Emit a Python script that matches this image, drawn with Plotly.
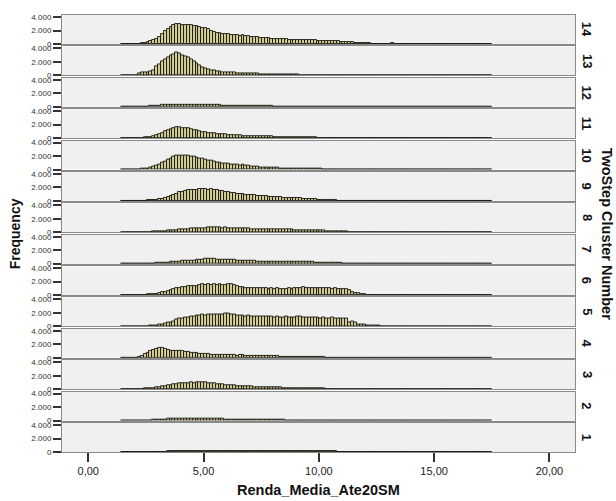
import numpy as np
import plotly.graph_objects as go
from plotly.subplots import make_subplots

# ---------------- data ----------------
BIN_START = 1.4
BIN_WIDTH = 0.125

clusters = [14, 13, 12, 11, 10, 9, 8, 7, 6, 5, 4, 3, 2, 1]

C14 = [10,10,10,15,20,30,60,120,
       200,300,420,600,800,1050,1450,2000,
       2250,2500,2750,2950,2900,2850,2800,2850,
       2750,2700,2600,2550,2400,2300,2150,2000,
       1850,1700,1650,1550,1500,1450,1400,1350,
       1300,1250,1350,1200,1150,1100,1050,1000,
       950,900,880,850,800,780,750,720,
       700,680,650,620,650,600,580,600,
       560,550,520,540,500,480,500,460,
       450,420,400,380,350,330,300,280,
       250,220,180,150,120,100,80,60,
       50,40,35,30,25,20,150,25,
       20,15,15,12,10,10,10,10,
       10,10,10,10,10,10,10,10,
       10,10,10,10,10,10,10,10,
       10,10,10,10,10,10,10,10,
       10]
C13 = [10,10,10,10,15,40,300,400,
       450,500,550,800,1300,1700,2100,2400,
       2700,2900,3100,3370,3200,2900,2850,2600,
       2400,2100,1800,1500,1250,1050,900,780,
       700,600,550,500,450,420,400,380,
       350,320,300,280,260,250,240,230,
       220,200,190,180,170,160,150,140,
       130,120,110,100,90,80,70,60,
       55,50,45,40,35,30,28,25,
       22,20,20,18,18,16,16,15,
       15,14,14,13,13,12,12,12,
       12,11,11,11,10,10,10,10,
       10,10,10,10,10,10,10,10,
       10,10,10,10,10,10,10,10,
       10,10,10,10,10,10,10,10,
       10,10,10,10,10,10,10,10,
       10]
C12 = [10,10,10,10,15,20,25,35,
       50,70,90,120,160,200,240,280,
       310,330,350,360,340,330,320,330,
       310,300,290,300,280,270,290,260,
       250,240,230,220,210,200,190,180,
       170,160,150,140,130,120,110,100,
       95,90,85,80,75,70,65,60,
       55,50,45,40,38,35,32,30,
       28,26,25,24,22,20,20,18,
       18,16,16,15,15,14,14,13,
       13,12,12,12,11,11,11,10,
       10,10,10,10,10,10,10,10,
       10,10,10,10,10,10,10,10,
       10,10,10,10,10,10,10,10,
       10,10,10,10,10,10,10,10,
       10,10,10,10,10,10,10,10,
       10]
C11 = [10,10,10,10,15,20,30,50,
       80,120,180,260,380,550,750,1000,
       1200,1400,1550,1650,1600,1550,1500,1450,
       1350,1250,1150,1050,950,850,800,750,
       700,650,600,560,520,480,450,420,
       400,380,360,340,320,300,290,280,
       270,260,250,240,230,220,210,200,
       190,180,170,160,150,140,130,120,
       110,100,90,80,70,60,50,40,
       35,30,28,25,22,20,18,16,
       15,14,13,12,12,11,11,10,
       10,10,10,10,10,10,10,10,
       10,10,10,10,10,10,10,10,
       10,10,10,10,10,10,10,10,
       10,10,10,10,10,10,10,10,
       10,10,10,10,10,10,10,10,
       10]
C10 = [10,10,10,15,20,30,60,100,
       150,220,320,450,600,800,1000,1250,
       1500,1700,1900,2050,2100,2100,2050,2050,
       2000,1900,1800,1700,1600,1500,1400,1300,
       1200,1100,1000,950,900,850,800,750,
       700,650,750,600,550,500,450,400,
       350,320,300,280,260,240,230,220,
       210,200,190,180,170,160,150,140,
       130,120,110,100,90,80,70,60,
       50,45,40,35,30,28,25,22,
       20,18,16,15,14,13,12,11,
       10,10,10,10,10,10,10,10,
       10,10,10,10,10,10,10,10,
       10,10,10,10,10,10,10,10,
       10,10,10,10,10,10,10,10,
       10,10,10,10,10,10,10,10,
       10]
C9 = [10,10,10,10,15,20,30,40,
      60,80,110,150,200,260,330,420,
      550,700,900,1100,1400,1350,1500,1600,
      1650,1700,1650,1750,1800,1750,1700,1750,
      1650,1600,1500,1450,1400,1300,1200,1150,
      1100,1050,1000,950,900,900,850,800,
      750,700,700,650,650,600,600,550,
      500,500,450,450,400,400,380,350,
      330,300,280,250,220,200,180,150,
      120,100,80,60,50,40,30,25,
      22,20,18,16,15,14,13,12,
      12,11,11,10,10,10,10,10,
      10,10,10,10,10,10,10,10,
      10,10,10,10,10,10,10,10,
      10,10,10,10,10,10,10,10,
      10,10,10,10,10,10,10,10,
      10]
C8 = [10,10,10,10,10,15,20,25,
      35,45,60,80,100,130,160,200,
      240,280,320,360,400,430,460,500,
      520,550,580,600,620,650,680,700,
      700,680,700,650,670,640,650,620,
      600,580,560,540,520,500,490,480,
      470,460,450,440,430,420,410,400,
      400,390,380,370,360,350,340,330,
      320,300,290,280,260,250,230,220,
      200,180,160,140,120,100,80,60,
      50,40,35,30,25,22,20,18,
      16,15,14,13,12,12,11,11,
      10,10,10,10,10,10,10,10,
      10,10,10,10,10,10,10,10,
      10,10,10,10,10,10,10,10,
      10,10,10,10,10,10,10,10,
      10]
C7 = [10,10,10,10,10,15,20,25,
      30,40,50,60,80,100,130,170,
      220,270,320,350,350,380,400,420,
      450,500,550,600,650,700,750,700,
      700,650,650,600,620,580,600,550,
      500,480,450,420,400,380,380,360,
      350,340,330,320,320,310,300,300,
      300,290,290,280,280,270,260,260,
      250,240,230,220,210,200,190,180,
      160,140,120,100,80,60,50,40,
      35,30,25,22,20,18,16,15,
      14,13,12,12,11,11,10,10,
      10,10,10,10,10,10,10,10,
      10,10,10,10,10,10,10,10,
      10,10,10,10,10,10,10,10,
      10,10,10,10,10,10,10,10,
      10]
C6 = [10,10,10,10,15,20,30,40,
      60,80,110,150,200,280,380,480,
      600,750,900,1000,1100,1200,1250,1300,
      1350,1300,1400,1500,1700,1550,1600,1550,
      1600,1550,1650,1500,1550,1600,1650,1500,
      1300,1250,1200,1100,1050,1100,1000,1050,
      1000,1050,1000,950,1000,950,1000,950,
      950,900,1000,950,1000,1050,1100,1150,
      1100,1050,1100,1000,1050,1000,1050,1000,
      1000,950,1000,900,950,900,850,800,
      400,300,320,150,80,50,30,25,
      22,20,18,16,15,14,13,12,
      12,11,11,10,10,10,10,10,
      10,10,10,10,10,10,10,10,
      10,10,10,10,10,10,10,10,
      10,10,10,10,10,10,10,10,
      10]
C5 = [10,10,10,10,15,20,25,35,
      50,70,100,140,190,250,330,420,
      550,650,800,1000,1150,1250,1350,1400,
      1450,1550,1600,1700,1750,1700,1800,1750,
      1800,1750,1850,1800,1900,1950,1850,1800,
      1700,1600,1650,1550,1600,1500,1550,1500,
      1550,1500,1450,1500,1450,1400,1450,1400,
      1400,1450,1400,1350,1400,1450,1500,1400,
      1350,1400,1300,1350,1300,1250,1300,1250,
      1200,1300,1250,1200,1250,1150,1200,650,
      700,600,300,250,250,200,150,120,
      100,80,60,50,40,30,25,20,
      18,16,15,14,13,12,12,11,
      11,10,10,10,10,10,10,10,
      10,10,10,10,10,10,10,10,
      10,10,10,10,10,10,10,10,
      10]
C4 = [10,10,10,15,25,50,150,350,
      550,800,1000,1200,1350,1500,1450,1300,
      1200,1100,1050,1000,1050,1000,950,850,
      800,750,700,650,600,550,520,500,
      480,450,430,420,400,400,380,370,
      360,420,500,350,340,320,300,290,
      280,270,260,250,250,240,230,220,
      210,200,200,190,180,170,160,150,
      140,130,120,110,100,90,80,70,
      60,50,45,40,35,30,28,25,
      22,20,18,16,15,14,13,12,
      12,11,11,10,10,10,10,10,
      10,10,10,10,10,10,10,10,
      10,10,10,10,10,10,10,10,
      10,10,10,10,10,10,10,10,
      10,10,10,10,10,10,10,10,
      10]
C3 = [10,10,10,10,15,20,30,50,
      80,110,150,200,260,330,400,480,
      560,650,720,800,850,900,950,950,
      1000,950,1000,1050,1000,1000,950,900,
      850,800,750,700,650,600,580,550,
      500,470,450,420,400,380,350,330,
      300,290,280,270,260,250,240,230,
      220,210,200,190,180,170,160,150,
      140,130,120,110,100,90,80,70,
      60,50,45,40,35,30,28,25,
      22,20,18,16,15,14,13,12,
      12,11,11,10,10,10,10,10,
      10,10,10,10,10,10,10,10,
      10,10,10,10,10,10,10,10,
      10,10,10,10,10,10,10,10,
      10,10,10,10,10,10,10,10,
      10]
C2 = [10,10,10,10,15,20,25,30,
      40,50,70,90,110,140,170,200,
      230,260,290,320,340,350,350,340,
      350,330,320,310,300,290,280,270,
      260,250,240,230,220,210,200,190,
      180,170,160,150,140,130,125,120,
      115,110,105,100,95,90,85,80,
      75,70,65,60,55,50,45,40,
      38,35,32,30,28,26,24,22,
      20,19,18,17,16,15,14,13,
      12,12,11,11,10,10,10,10,
      10,10,10,10,10,10,10,10,
      10,10,10,10,10,10,10,10,
      10,10,10,10,10,10,10,10,
      10,10,10,10,10,10,10,10,
      10,10,10,10,10,10,10,10,
      10]
C1 = [10,10,10,10,10,10,15,15,
      20,25,30,35,40,50,60,70,
      80,90,100,110,120,130,140,150,
      160,170,180,190,200,200,210,210,
      200,210,200,200,190,200,190,190,
      180,190,180,180,170,180,170,170,
      160,170,160,160,150,160,150,150,
      150,150,140,150,140,150,160,180,
      200,180,160,150,140,130,120,110,
      100,90,80,70,60,50,40,35,
      30,25,22,20,18,16,15,14,
      13,12,12,11,11,10,10,10,
      10,10,10,10,10,10,10,10,
      10,10,10,10,10,10,10,10,
      10,10,10,10,10,10,10,10,
      10,10,10,10,10,10,10,10,
      10]

counts = {14: C14, 13: C13, 12: C12, 11: C11, 10: C10, 9: C9, 8: C8,
          7: C7, 6: C6, 5: C5, 4: C4, 3: C3, 2: C2, 1: C1}

y_tickvals = [0, 2000, 4000]
y_ticktext = ["0", "2.000", "4.000"]
x_tickvals = [0, 5, 10, 15, 20]
x_ticktext = ["0,00", "5,00", "10,00", "15,00", "20,00"]

# ---------------- figure ----------------
FONT = "Liberation Sans, Arial, sans-serif"
N = len(clusters)
fig = make_subplots(rows=N, cols=1, shared_xaxes=True, vertical_spacing=0.0055)

for r, c in enumerate(clusters, start=1):
    vals = counts[c]
    x = BIN_START + BIN_WIDTH * (np.arange(len(vals)) + 0.5)
    fig.add_trace(go.Bar(
        x=x, y=vals, width=BIN_WIDTH,
        marker=dict(color="rgb(214,208,150)",
                    line=dict(color="rgb(20,20,15)", width=0.9)),
        showlegend=False, hoverinfo="skip"), row=r, col=1)

fig.update_yaxes(range=[0, 4300], tickvals=y_tickvals, ticktext=y_ticktext,
                 ticks="outside", ticklen=8, tickwidth=1.5, tickcolor="#333",
                 tickfont=dict(size=8, color="#333", family=FONT),
                 showgrid=False, zeroline=False, showline=True,
                 linecolor="#8a8a8a", linewidth=1, mirror=True)
fig.update_xaxes(range=[-1.14, 21.11], showgrid=False, zeroline=False,
                 showline=True, linecolor="#8a8a8a", linewidth=1, mirror=True,
                 ticks="", tickvals=x_tickvals, ticktext=x_ticktext)
fig.update_xaxes(ticks="outside", ticklen=9, tickwidth=1.5, tickcolor="#333",
                 tickfont=dict(size=11, color="#222", family=FONT),
                 showticklabels=True, row=N, col=1)

annotations = []
for r, c in enumerate(clusters, start=1):
    yref = "y domain" if r == 1 else f"y{r} domain"
    annotations.append(dict(text=f"<b>{c}</b>", xref="paper", yref=yref,
                            x=1.023, y=0.5, showarrow=False, textangle=90,
                            xanchor="center", yanchor="middle",
                            font=dict(size=13, color="#111", family=FONT)))
annotations.append(dict(text="<b>TwoStep Cluster Number</b>", xref="paper",
                        yref="paper", x=1.064, y=0.5, showarrow=False,
                        textangle=90, xanchor="center", yanchor="middle",
                        font=dict(size=14.5, color="#111", family=FONT)))
annotations.append(dict(text="<b>Frequency</b>", xref="paper", yref="paper",
                        x=-0.092, y=0.5, showarrow=False, textangle=-90,
                        xanchor="center", yanchor="middle",
                        font=dict(size=14, color="#111", family=FONT)))
annotations.append(dict(text="<b>Renda_Media_Ate20SM</b>", xref="paper",
                        yref="paper", x=0.5, y=-0.087, showarrow=False,
                        xanchor="center", yanchor="middle",
                        font=dict(size=14.5, color="#111", family=FONT)))

fig.update_layout(width=616, height=501,
                  margin=dict(l=62, r=41, t=15, b=49),
                  paper_bgcolor="white", plot_bgcolor="#f0f0f0",
                  bargap=0, annotations=annotations,
                  font=dict(family=FONT))

fig.write_html("out.html", config={"displayModeBar": False},
               post_script="document.body.style.margin='0';"
                           "document.body.style.overflow='hidden';")
